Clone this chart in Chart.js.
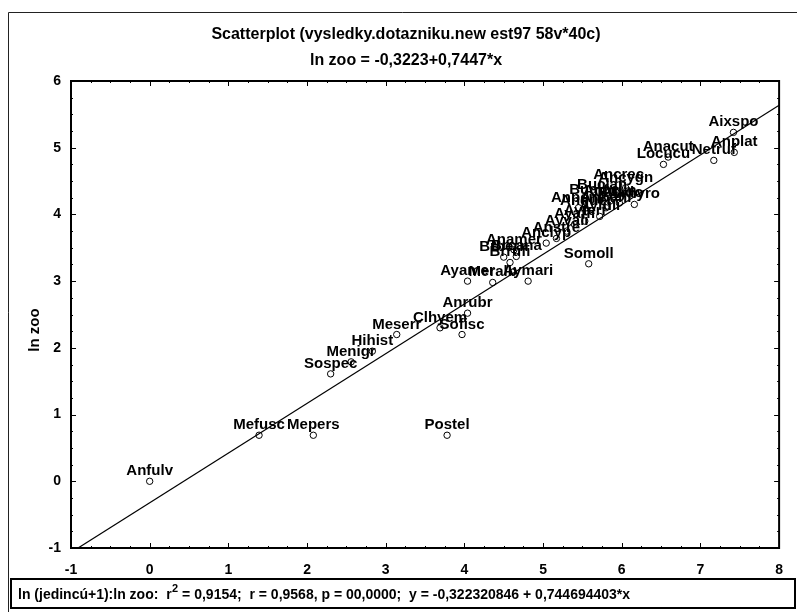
<!DOCTYPE html>
<html>
<head>
<meta charset="utf-8">
<script src="https://cdn.jsdelivr.net/npm/chart.js@4.4.1/dist/chart.umd.min.js"></script>
<style>
  html, body { margin: 0; padding: 0; background: #fff; }
  #wrap { position: relative; width: 797px; height: 612px; }
</style>
</head>
<body>
<div id="wrap"><canvas id="c" width="797" height="612"></canvas></div>
<script>
// Species abbreviations (cases)
const species = [
  'Anfulv','Mefusc','Mepers','Postel','Sospec','Menigr','Hihist','Meserr','Clhyem','Sofisc',
  'Anrubr','Ayamer','Meralb','Aymari','Somoll','Brbern','Brcana','Anamer','Brrufi','Anclyp',
  'Anstre','Ayvali','Ayaffi','Ayferi','Ayfuli','Anpene','Anquer','Bualbe','Buclan','Anbahi',
  'Anform','Tatado','Ancrec','Ancygn','Aynyro','Locucu','Anacut','Netruf','Aixspo','Anplat'
];
// ln (jedincú+1)
const lnJedincu = [
  0.00, 1.39, 2.08, 3.78, 2.30, 2.56, 2.83, 3.14, 3.69, 3.97,
  4.04, 4.04, 4.36, 4.81, 5.58, 4.50, 4.66, 4.63, 4.58, 5.04,
  5.17, 5.30, 5.40, 5.53, 5.72, 5.45, 5.55, 5.65, 5.75, 5.80,
  5.85, 5.97, 5.96, 6.05, 6.16, 6.53, 6.59, 7.17, 7.42, 7.43
];
// ln zoo
const lnZoo = [
  0.00, 0.69, 0.69, 0.69, 1.61, 1.79, 1.95, 2.20, 2.30, 2.20,
  2.52, 3.00, 2.98, 3.00, 3.26, 3.36, 3.37, 3.47, 3.28, 3.57,
  3.64, 3.75, 3.85, 3.90, 3.97, 4.10, 4.05, 4.22, 4.29, 4.10,
  4.20, 4.17, 4.44, 4.40, 4.15, 4.75, 4.86, 4.81, 5.23, 4.93
];
// Regression coefficients: ln zoo = a + b*x
const intercept = -0.322320846;
const slope = 0.744694403;
const xTicks = [-1, 0, 1, 2, 3, 4, 5, 6, 7, 8];
const yTicks = [-1, 0, 1, 2, 3, 4, 5, 6];

const titleLine1 = 'Scatterplot (vysledky.dotazniku.new est97 58v*40c)';
const titleLine2 = 'ln zoo = -0,3223+0,7447*x';
const yAxisTitle = 'ln zoo';
const footerLead = 'ln (jedincú+1):ln zoo:  r';
const footerSup = '2';
const footerRest = ' = 0,9154;  r = 0,9568, p = 00,0000;  y = -0,322320846 + 0,744694403*x';

const FONT = '"Liberation Sans", Arial, sans-serif';

const points = lnJedincu.map((x, i) => ({ x: x, y: lnZoo[i] }));
const xMin = xTicks[0], xMax = xTicks[xTicks.length - 1];
const fitLine = [
  { x: xMin, y: intercept + slope * xMin },
  { x: xMax, y: intercept + slope * xMax }
];

// Frame, inner tick marks, titles and footer box
const decorations = {
  id: 'decorations',
  beforeDraw(chart) {
    const ctx = chart.ctx;
    ctx.save();
    ctx.fillStyle = '#fff';
    ctx.fillRect(0, 0, chart.width, chart.height);
    ctx.strokeStyle = '#222';
    ctx.lineWidth = 1;
    ctx.beginPath();
    ctx.moveTo(8.5, 612);
    ctx.lineTo(8.5, 12.5);
    ctx.lineTo(797, 12.5);
    ctx.stroke();
    ctx.restore();
  },
  afterDatasetsDraw(chart) {
    const ctx = chart.ctx;
    const a = chart.chartArea;
    const xs = chart.scales.x, ys = chart.scales.y;
    ctx.save();
    ctx.strokeStyle = '#000';
    ctx.lineWidth = 2;
    ctx.strokeRect(a.left, a.top, a.right - a.left, a.bottom - a.top);
    ctx.lineWidth = 1;
    for (let v = xMin; v <= xMax + 1e-9; v += 0.25) {
      const px = Math.round(xs.getPixelForValue(v)) + 0.5;
      const len = Math.abs(v - Math.round(v)) < 1e-9 ? 5 : 2;
      ctx.beginPath();
      ctx.moveTo(px, a.bottom); ctx.lineTo(px, a.bottom - len);
      ctx.moveTo(px, a.top); ctx.lineTo(px, a.top + len);
      ctx.stroke();
    }
    for (let v = yTicks[0]; v <= yTicks[yTicks.length - 1] + 1e-9; v += 0.25) {
      const py = Math.round(ys.getPixelForValue(v)) + 0.5;
      const len = Math.abs(v - Math.round(v)) < 1e-9 ? 5 : 2;
      ctx.beginPath();
      ctx.moveTo(a.left, py); ctx.lineTo(a.left + len, py);
      ctx.moveTo(a.right, py); ctx.lineTo(a.right - len, py);
      ctx.stroke();
    }
    // point labels
    const meta = chart.getDatasetMeta(1);
    ctx.fillStyle = '#000';
    ctx.font = 'bold 15px ' + FONT;
    ctx.textAlign = 'center';
    ctx.textBaseline = 'alphabetic';
    meta.data.forEach((el, i) => {
      ctx.fillText(species[i], el.x, el.y - 6);
    });
    ctx.restore();
  },
  afterDraw(chart) {
    const ctx = chart.ctx;
    ctx.save();
    ctx.fillStyle = '#000';
    ctx.textAlign = 'center';
    ctx.textBaseline = 'middle';
    ctx.font = 'bold 16px ' + FONT;
    ctx.fillText(titleLine1, 406, 35);
    ctx.fillText(titleLine2, 406, 61);
    ctx.save();
    ctx.font = 'bold 15px ' + FONT;
    ctx.translate(35, 330);
    ctx.rotate(-Math.PI / 2);
    ctx.fillText(yAxisTitle, 0, 0);
    ctx.restore();
    // footer box
    ctx.strokeStyle = '#000';
    ctx.lineWidth = 2;
    ctx.strokeRect(11, 579, 784, 29);
    ctx.textAlign = 'left';
    ctx.font = 'bold 14px ' + FONT;
    let x = 18;
    ctx.fillText(footerLead, x, 595);
    x += ctx.measureText(footerLead).width;
    ctx.font = 'bold 11px ' + FONT;
    ctx.fillText(footerSup, x + 0.5, 589);
    x += ctx.measureText(footerSup).width + 0.5;
    ctx.font = 'bold 14px ' + FONT;
    ctx.fillText(footerRest, x, 595);
    ctx.restore();
  }
};

new Chart(document.getElementById('c'), {
  type: 'scatter',
  data: {
    datasets: [
      {
        type: 'line',
        data: fitLine,
        borderColor: '#000',
        borderWidth: 1.2,
        pointRadius: 0,
        fill: false,
        tension: 0
      },
      {
        data: points,
        pointStyle: 'circle',
        pointRadius: 3.2,
        pointBorderWidth: 1,
        pointBorderColor: '#000',
        pointBackgroundColor: '#fff'
      }
    ]
  },
  options: {
    responsive: false,
    animation: false,
    events: [],
    layout: { padding: { left: 8, top: 81, right: 2, bottom: 34 } },
    plugins: { legend: { display: false }, tooltip: { enabled: false }, title: { display: false } },
    scales: {
      x: {
        type: 'linear', min: xMin, max: xMax,
        afterBuildTicks(scale) { scale.ticks = xTicks.map(v => ({ value: v })); },
        afterFit(scale) { scale.height = 30; },
        grid: { display: false, drawTicks: false },
        border: { display: false },
        ticks: {
          color: '#000', padding: 14, maxRotation: 0, autoSkip: false,
          font: { family: FONT, size: 14, weight: 'bold' },
          callback: v => String(v)
        }
      },
      y: {
        type: 'linear', min: yTicks[0], max: yTicks[yTicks.length - 1],
        afterBuildTicks(scale) { scale.ticks = yTicks.map(v => ({ value: v })); },
        afterFit(scale) { scale.width = 63; },
        grid: { display: false, drawTicks: false },
        border: { display: false },
        ticks: {
          color: '#000', padding: 10, autoSkip: false,
          font: { family: FONT, size: 14, weight: 'bold' },
          callback: v => String(v)
        }
      }
    }
  },
  plugins: [decorations]
});
</script>
</body>
</html>
